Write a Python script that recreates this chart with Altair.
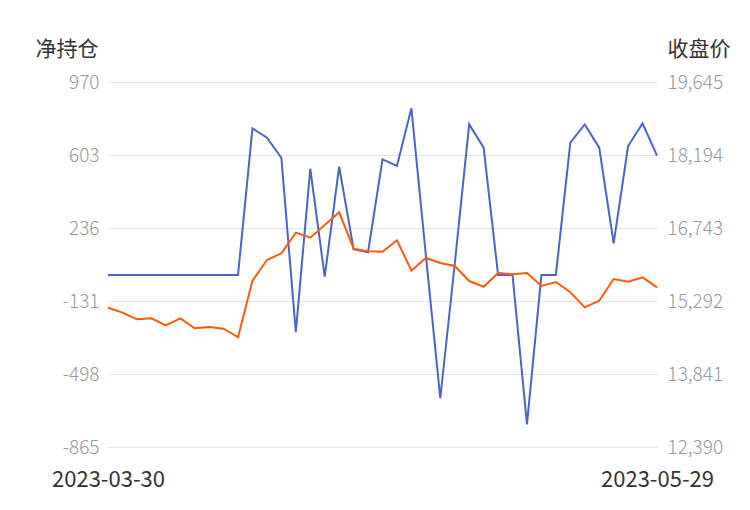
import altair as alt
import pandas as pd

dates = [
    "2023-03-30", "2023-03-31",
    "2023-04-03", "2023-04-04", "2023-04-06", "2023-04-07",
    "2023-04-10", "2023-04-11", "2023-04-12", "2023-04-13", "2023-04-14",
    "2023-04-17", "2023-04-18", "2023-04-19", "2023-04-20", "2023-04-21",
    "2023-04-24", "2023-04-25", "2023-04-26", "2023-04-27", "2023-04-28",
    "2023-05-04", "2023-05-05",
    "2023-05-08", "2023-05-09", "2023-05-10", "2023-05-11", "2023-05-12",
    "2023-05-15", "2023-05-16", "2023-05-17", "2023-05-18", "2023-05-19",
    "2023-05-22", "2023-05-23", "2023-05-24", "2023-05-25", "2023-05-26",
    "2023-05-29",
]

net_position = [
    0, 0, 0, 0, 0, 0, 0, 0, 0, 0,
    737, 690, 589, -288, 534, -8, 544, 129, 114, 581,
    548, 838, 100, -620, 55, 757, 640, 0, 0, -751,
    0, 0, 665, 757, 640, 159, 648, 762, 600,
]

close_price = [
    15159, 15060, 14928, 14948, 14809, 14948, 14749, 14775, 14742, 14570,
    15695, 16107, 16240, 16650, 16550, 16803, 17055, 16332, 16280, 16272,
    16498, 15894, 16147, 16047, 15988, 15689, 15576, 15848, 15822, 15848,
    15590, 15670, 15465, 15166, 15298, 15729, 15676, 15763, 15564,
]

left_ticks = [-865, -498, -131, 236, 603, 970]
right_ticks = [12390, 13841, 15292, 16743, 18194, 19645]

df = pd.DataFrame({"date": dates, "net": net_position, "close": close_price})

FONT = "Noto Sans CJK SC"

x_enc = alt.X(
    "date:O",
    sort=None,
    scale=alt.Scale(type="point", padding=0),
    axis=alt.Axis(
        title=None,
        values=[dates[0], dates[-1]],
        labelAngle=0,
        labelFontSize=22,
        labelColor="#333333",
        labelFont=FONT,
        labelPadding=22,
        ticks=False,
        domain=False,
        grid=False,
    ),
)

net_line = alt.Chart(df).mark_line(color="#4a64c8", strokeWidth=2).encode(
    x=x_enc,
    y=alt.Y(
        "net:Q",
        scale=alt.Scale(domain=[left_ticks[0], left_ticks[-1]], nice=False, zero=False),
        axis=alt.Axis(
            orient="left",
            values=left_ticks,
            labelExpr="'' + datum.value",
            title="净持仓",
            titleAngle=0,
            titleX=-73,
            titleY=-33,
            titleAlign="left",
            titleBaseline="middle",
            titleFontSize=21,
            titleFontWeight="normal",
            titleColor="#333333",
            titleFont=FONT,
            labelFontSize=19,
            labelFontWeight=300,
            labelColor="#999999",
            labelFont=FONT,
            labelPadding=9,
            ticks=False,
            domain=False,
            grid=True,
            gridColor="#e0e6f1",
            gridWidth=1,
        ),
    ),
)

close_line = alt.Chart(df).mark_line(color="#ff5a0a", strokeWidth=2).encode(
    x=x_enc,
    y=alt.Y(
        "close:Q",
        scale=alt.Scale(domain=[right_ticks[0], right_ticks[-1]], nice=False, zero=False),
        axis=alt.Axis(
            orient="right",
            values=right_ticks,
            format=",.0f",
            title="收盘价",
            titleAngle=0,
            titleX=10,
            titleY=-33,
            titleAlign="left",
            titleBaseline="middle",
            titleFontSize=21,
            titleFontWeight="normal",
            titleColor="#333333",
            titleFont=FONT,
            labelFontSize=19,
            labelFontWeight=300,
            labelColor="#999999",
            labelFont=FONT,
            labelPadding=10,
            ticks=False,
            domain=False,
            grid=False,
        ),
    ),
)

chart = (
    alt.layer(net_line, close_line)
    .resolve_scale(y="independent")
    .properties(
        width=549,
        height=365,
        background="white",
        autosize=alt.AutoSizeParams(type="none"),
        padding={"left": 100, "top": 74, "right": 84, "bottom": 55},
    )
    .configure_view(strokeWidth=0, stroke="transparent")
)

chart.save("out.html", embed_options={"renderer": "svg", "actions": False})
